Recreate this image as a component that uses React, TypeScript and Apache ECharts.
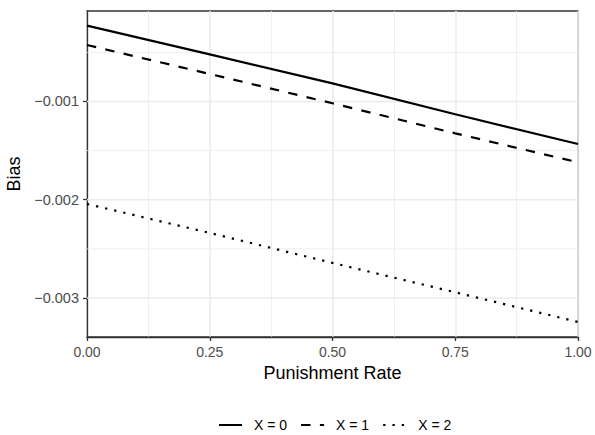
import React, { useEffect, useRef } from "react";
import * as echarts from "echarts";

const rates = [0, 0.25, 0.5, 0.75, 1];
const biasX0 = [-0.000228, -0.00052, -0.000815, -0.00113, -0.001433];
const biasX1 = [-0.000425, -0.00072, -0.001018, -0.001324, -0.001619];
const biasX2 = [-0.002043, -0.002338, -0.002643, -0.002942, -0.003244];
const seriesNames = ["X = 0", "X = 1", "X = 2"];
const yMajorTicks = [-0.003, -0.002, -0.001];
const yMinorTicks = [-0.0025, -0.0015, -0.0005];
const xTicks = [0, 0.25, 0.5, 0.75, 1];

const FONT = "'Liberation Sans', Arial, Helvetica, sans-serif";

export default function App() {
  const ref = useRef<HTMLDivElement>(null);
  useEffect(() => {
    if (!ref.current) return;
    const chart = echarts.init(ref.current, undefined, { renderer: "svg" });
    const mk = (vals: number[]) => rates.map((r, i) => [r, vals[i]]);
    const dashes: any[] = ["solid", [9.4, 9.4], [2.3, 7]];
    const datasets = [biasX0, biasX1, biasX2];
    const xMin = xTicks[0];
    const xMax = xTicks[xTicks.length - 1];
    const gridSeries = [
      ...yMinorTicks.map((v) => ({ v, w: 0.8 })),
      ...yMajorTicks.map((v) => ({ v, w: 1.6 })),
    ].map((g, i) => ({
      name: "grid" + i,
      type: "line",
      z: 1,
      silent: true,
      symbol: "none",
      showSymbol: false,
      data: [
        [xMin, g.v],
        [xMax, g.v],
      ],
      lineStyle: { color: "#EBEBEB", width: g.w, type: "solid" },
      emphasis: { disabled: true },
      tooltip: { show: false },
    }));
    chart.setOption({
      animation: false,
      textStyle: { fontFamily: FONT },
      grid: {
        show: true,
        left: 87,
        right: 17,
        top: 11,
        bottom: 98,
        containLabel: false,
        outerBoundsMode: "none",
        borderColor: "#333333",
        borderWidth: 1.3,
        backgroundColor: "#fff",
      },
      legend: {
        data: seriesNames,
        left: 213,
        top: 413,
        itemWidth: 23,
        itemHeight: 14,
        itemGap: 13,
        itemStyle: { color: "rgba(0,0,0,0)", borderWidth: 0, opacity: 0 },
        textStyle: { fontSize: 14, color: "#000", fontFamily: FONT, padding: [0, 0, 0, 7] },
      },
      xAxis: {
        type: "value",
        min: 0,
        max: 1,
        interval: 0.25,
        name: "Punishment Rate",
        nameLocation: "middle",
        nameGap: 23,
        nameTextStyle: { fontSize: 18, color: "#000", fontFamily: FONT },
        axisLine: { show: true, lineStyle: { color: "#333333", width: 1.3 } },
        axisTick: { show: true, length: 4, lineStyle: { color: "#333333", width: 1.3 } },
        axisLabel: {
          fontSize: 14,
          color: "#4D4D4D",
          margin: 8,
          fontFamily: FONT,
          customValues: xTicks,
          formatter: (v: number) => v.toFixed(2),
        },
        splitLine: { show: true, lineStyle: { color: "#EBEBEB", width: 1.6 } },
        minorTick: { show: false, splitNumber: 2 },
        minorSplitLine: { show: true, lineStyle: { color: "#EBEBEB", width: 0.8 } },
      },
      yAxis: {
        type: "value",
        min: -0.003397,
        max: -0.0000789,
        name: "Bias",
        nameLocation: "middle",
        nameGap: 59,
        nameTextStyle: { fontSize: 18, color: "#000", fontFamily: FONT },
        axisLine: { show: true, lineStyle: { color: "#333333", width: 1.3 } },
        axisTick: { show: true, length: 4, lineStyle: { color: "#333333", width: 1.3 }, customValues: yMajorTicks },
        axisLabel: {
          fontSize: 14.5,
          color: "#4D4D4D",
          margin: 8,
          fontFamily: FONT,
          customValues: yMajorTicks,
          formatter: (v: number) => v.toFixed(3).replace("-", "\u2212"),
        },
        splitLine: { show: false },
      },
      series: [
        ...gridSeries,
        ...datasets.map((d, i) => ({
          name: seriesNames[i],
          type: "line",
          z: 3,
          data: mk(d),
          symbol: "none",
          showSymbol: false,
          lineStyle: { color: "#000", width: 2.2, type: dashes[i], cap: "butt" },
          itemStyle: { color: "#000" },
        })),
      ],
    });
    return () => chart.dispose();
  }, []);
  return (
    <div
      ref={ref}
      style={{ position: "fixed", left: 0, top: 0, width: 595, height: 435, background: "#fff" }}
    />
  );
}
